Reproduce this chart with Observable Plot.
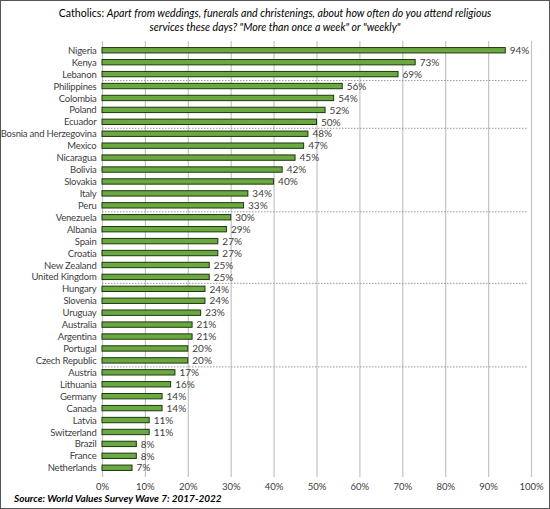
<!DOCTYPE html>
<html>
<head>
<meta charset="utf-8">
<script src="https://cdn.jsdelivr.net/npm/d3@7"></script>
<script src="https://cdn.jsdelivr.net/npm/@observablehq/plot@0.6"></script>
<style>
  body { margin: 0; background: #fff; }
  #frame {
    position: relative; width: 550px; height: 509px; box-sizing: border-box;
    border: 1px solid #555; background: #fff; font-family: Lato, "Open Sans", sans-serif;
  }
  #title {
    position: absolute; top: 5px; left: 0; width: 548px; text-align: center;
    font-size: 10.6px; line-height: 14px; color: #000;
  }
  #chart { position: absolute; top: 35px; left: 0; }
  #chart svg g[aria-label="y-axis tick label"] text { letter-spacing: -0.2px; }
  #source {
    position: absolute; top: 491px; left: 13px; font-size: 10px;
    font-weight: bold; font-style: italic; color: #000;
  }
</style>
</head>
<body>
<div id="frame">
  <div id="title">Catholics: <i>Apart from weddings, funerals and christenings, about how often do you attend religious<br>services these days? "More than once a week" or "weekly"</i></div>
  <div id="chart"></div>
  <div id="source">Source: World Values Survey Wave 7: 2017-2022</div>
</div>
<script>
// countries, top to bottom
const countries = [
  "Nigeria", "Kenya", "Lebanon", "Philippines", "Colombia", "Poland", "Ecuador",
  "Bosnia and Herzegovina", "Mexico", "Nicaragua", "Bolivia", "Slovakia", "Italy", "Peru",
  "Venezuela", "Albania", "Spain", "Croatia", "New Zealand", "United Kingdom",
  "Hungary", "Slovenia", "Uruguay", "Australia", "Argentina", "Portugal", "Czech Republic",
  "Austria", "Lithuania", "Germany", "Canada", "Latvia", "Switzerland", "Brazil", "France", "Netherlands"
];
// % attending more than once a week or weekly
const weekly = [
  94, 73, 69, 56, 54, 52, 50,
  48, 47, 45, 42, 40, 34, 33,
  30, 29, 27, 27, 25, 25,
  24, 24, 23, 21, 21, 20, 20,
  17, 16, 14, 14, 11, 11, 8, 8, 7
];
// dashed separator drawn above these rows
const groupStarts = ["Philippines", "Bosnia and Herzegovina", "Venezuela", "Hungary", "Austria"];
const xTicks = [0, 10, 20, 30, 40, 50, 60, 70, 80, 90, 100];

const rows = countries.map((c, i) => ({country: c, value: weekly[i]}));

const height = 458, marginTop = 5, marginBottom = 17, pad = 0.55;
const step = (height - marginTop - marginBottom) / (countries.length - pad + 2 * pad);

const chart = Plot.plot({
  width: 548,
  height,
  marginLeft: 101,
  marginRight: 18,
  marginTop,
  marginBottom,
  style: {fontFamily: "Lato, 'Open Sans', sans-serif", fontSize: "9.5px", color: "#404040", background: "white"},
  x: {domain: [0, 100], ticks: xTicks, tickFormat: d => d + "%", tickSize: 0, tickPadding: 6, label: null},
  y: {domain: countries, padding: pad, tickSize: 0, tickPadding: 6, label: null},
  marks: [
    Plot.ruleX(xTicks, {stroke: "#c4c4c4", strokeWidth: 1.2}),
    Plot.ruleY(groupStarts, {y: d => d, x1: 0, x2: 99, dy: -step / 2, stroke: "#9a9a9a", strokeDasharray: "1.5,1.5", strokeWidth: 1}),
    Plot.barX(rows, {y: "country", x: "value", fill: "#6aa840", stroke: "#1e3612", strokeWidth: 1}),
    Plot.text(rows, {y: "country", x: "value", text: d => d.value + "%", textAnchor: "start", dx: 4, fill: "#404040", fontSize: 10})
  ]
});
document.getElementById("chart").append(chart);
</script>
</body>
</html>
